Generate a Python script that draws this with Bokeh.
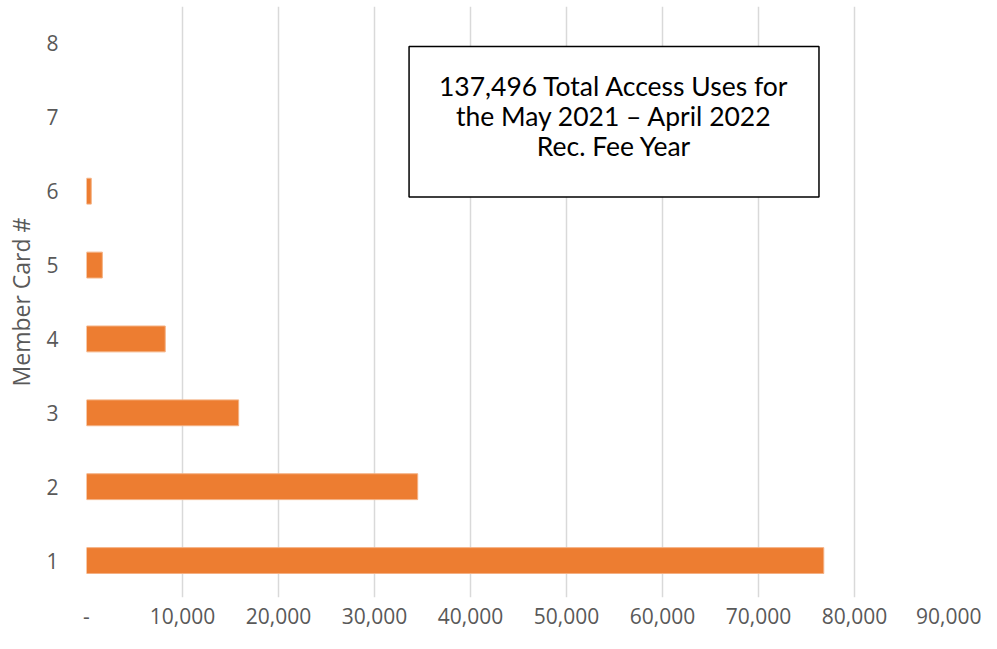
from bokeh.plotting import figure
from bokeh.models import Range1d, FixedTicker, NumeralTickFormatter, BoxAnnotation, ColumnDataSource
from bokeh.core.properties import value
from bokeh.embed import file_html
from bokeh.resources import INLINE

cards = [1, 2, 3, 4, 5, 6, 7, 8]
uses = [76800, 34500, 15850, 8200, 1650, 496, 0, 0]
x_ticks = [0, 10000, 20000, 30000, 40000, 50000, 60000, 70000, 80000, 90000]
note_lines = ["137,496 Total Access Uses for", "the May 2021 \u2013 April 2022", "Rec. Fee Year"]

p = figure(width=981, height=633, output_backend="svg", toolbar_location=None,
           x_range=Range1d(0, 90000), y_range=Range1d(0.5, 8.5),
           min_border_left=86, min_border_right=31, min_border_top=6, min_border_bottom=36)
p.outline_line_color = None
p.background_fill_color = "white"
p.border_fill_color = "white"

src = ColumnDataSource(dict(y=[c for c, u in zip(cards, uses) if u > 0],
                            right=[u for u in uses if u > 0]))
p.hbar(y="y", left=0, right="right", height=0.35, source=src,
       fill_color="#ED7D31", line_color="#F4B183", line_width=1)

p.xaxis.ticker = FixedTicker(ticks=x_ticks)
p.xaxis.formatter = NumeralTickFormatter(format="0,0")
p.xaxis.major_label_overrides = {0: "-"}
p.yaxis.ticker = FixedTicker(ticks=cards)

for ax in (p.xaxis[0], p.yaxis[0]):
    ax.axis_line_color = None
    ax.major_tick_line_color = None
    ax.minor_tick_line_color = None
    ax.major_label_text_font = "Open Sans"
    ax.major_label_text_font_size = "21px"
    ax.major_label_text_color = "#595959"

p.xaxis.major_label_standoff = 4
p.yaxis.major_label_standoff = 22
p.yaxis.axis_label = "Member Card #"
p.yaxis.axis_label_text_font = "Open Sans"
p.yaxis.axis_label_text_font_size = "23px"
p.yaxis.axis_label_text_font_style = "normal"
p.yaxis.axis_label_text_color = "#595959"
p.yaxis.axis_label_standoff = 6

p.xgrid.ticker = FixedTicker(ticks=x_ticks)
p.xgrid.grid_line_color = "#D9D9D9"
p.xgrid.grid_line_width = 1.5
p.ygrid.grid_line_color = None

box = BoxAnnotation(left=33600, right=76300, bottom=5.92, top=7.96, level="underlay",
                    fill_color="white", fill_alpha=1.0,
                    line_color="black", line_alpha=1.0, line_width=1.5)
p.add_layout(box)

tsrc = ColumnDataSource(dict(x=[54950] * 3, y=[7.43, 7.02, 6.61], t=note_lines))
p.text(x="x", y="y", text="t", source=tsrc, text_font=value("Lato"), text_font_size="26.5px",
       text_color="black", text_align="center", text_baseline="alphabetic")

open("out.html", "w").write(file_html(p, INLINE))
